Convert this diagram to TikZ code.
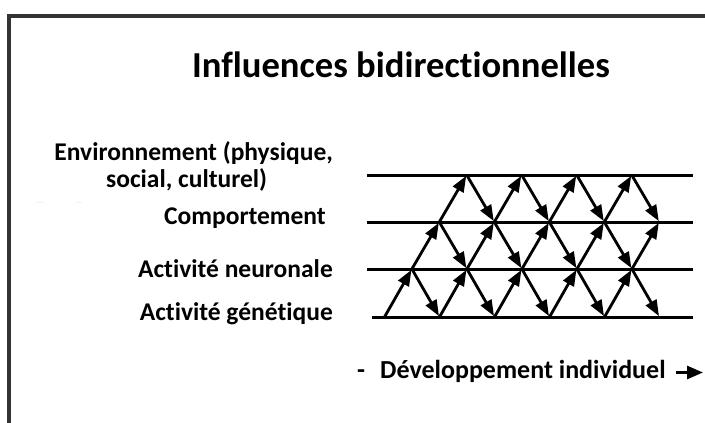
\documentclass[tikz,border=0pt]{standalone}
\usepackage{fontspec}
\setmainfont{Carlito}[Ligatures=NoCommon]
\usetikzlibrary{arrows.meta}
\begin{document}
\begin{tikzpicture}[x=1pt,y=-1pt,
  frameline/.style={line width=3.2pt,draw=black!80},
  hline/.style={line width=3pt},
  flowtip/.tip={Triangle[length=16pt,width=12pt]},
  flow/.style={line width=2.8pt,shorten >=1pt,-flowtip},
  lbl/.style={font=\bfseries\fontsize{25.5}{27}\selectfont,inner sep=0pt},
  dlbl/.style={font=\bfseries\fontsize{26}{30}\selectfont,inner sep=0pt},
  ttl/.style={font=\bfseries\fontsize{36.6}{40}\selectfont,inner sep=0pt}]
\useasboundingbox (0,0) rectangle (705,423);
% frame (cut at right and bottom)
\draw[frameline] (9,423) -- (9,16) -- (705,16);
% faint smudge
\draw[gray!10,line width=1pt] (36,202) -- (44,202) (76,202) -- (82,202);
% title
\node[ttl,anchor=base] (title) at (401,77) {Influences bidirectionnelles};
% labels
\node[lbl,anchor=base east,align=center] (env) at (333,187) {Environnement (physique,\\social, culturel)\hspace*{14pt}};
\node[lbl,anchor=base east] (comp) at (326,224) {Comportement};
\node[lbl,anchor=base east] (neur) at (333,277) {Activité neuronale};
\node[lbl,anchor=base east] (gen) at (333,320) {Activité génétique};
% horizontal lines
\coordinate (L3) at (367,175); \coordinate (R3) at (693,175);
\coordinate (L2) at (367,222); \coordinate (R2) at (693,222);
\coordinate (L1) at (367,269); \coordinate (R1) at (693,269);
\coordinate (L0) at (372,317); \coordinate (R0) at (693,317);
\draw[hline] (L0) -- (R0);
\draw[hline] (L1) -- (R1);
\draw[hline] (L2) -- (R2);
\draw[hline] (L3) -- (R3);
% lattice vertices v<row>-<col>
\foreach \r/\yy in {0/317,1/269,2/222,3/175}
  \foreach \c in {0,...,5}
    \coordinate (v\r-\c) at ({384.5+\r*27.4+\c*55},\yy);
% upward arrows
\foreach \c in {0,...,4} \draw[flow] (v0-\c) -- (v1-\c);
\foreach \c in {0,...,4} \draw[flow] (v1-\c) -- (v2-\c);
\foreach \c in {0,...,3} \draw[flow] (v2-\c) -- (v3-\c);
% downward arrows
\foreach \c [evaluate=\c as \n using int(\c+1)] in {0,...,3} \draw[flow] (v3-\c) -- (v2-\n);
\foreach \c [evaluate=\c as \n using int(\c+1)] in {0,...,3} \draw[flow] (v2-\c) -- (v1-\n);
\foreach \c [evaluate=\c as \n using int(\c+1)] in {0,...,4} \draw[flow] (v1-\c) -- (v0-\n);
% development axis
\node[dlbl,anchor=base] (dash) at (361,378) {-};
\node[dlbl,anchor=base west] (dev) at (380,378) {Développement individuel};
\coordinate (a0) at (676,372.5);
\coordinate (a1) at (703,372.5);
\draw[line width=2.8pt,-{Triangle[length=16pt,width=13pt]}] (a0) -- (a1);
\end{tikzpicture}
\end{document}
